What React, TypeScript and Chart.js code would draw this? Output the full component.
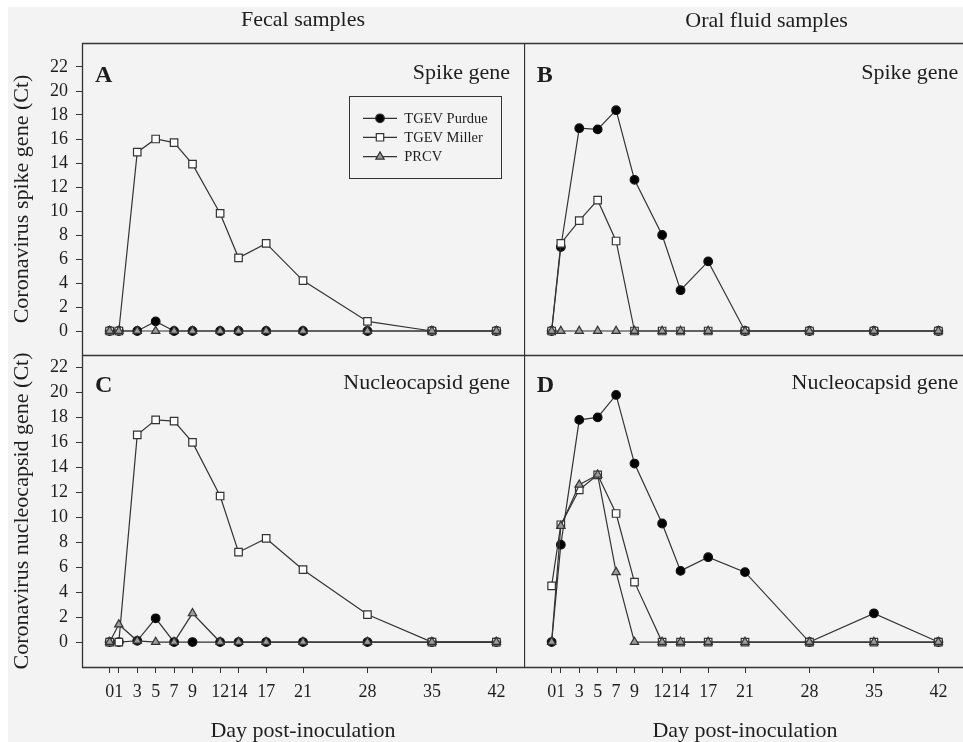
import React, { useEffect, useRef } from "react";
import { Chart, registerables } from "chart.js";

Chart.register(...registerables);

// ---------- data ----------
const days = [0, 1, 3, 5, 7, 9, 12, 14, 17, 21, 28, 35, 42];
const yTickValues = [0, 2, 4, 6, 8, 10, 12, 14, 16, 18, 20, 22];
const seriesNames = ["TGEV Purdue", "TGEV Miller", "PRCV"];

const fecalSpikePurdue = [0, 0, 0, 0.8, 0, 0, 0, 0, 0, 0, 0, 0, 0];
const fecalSpikeMiller = [0, 0, 14.9, 16.0, 15.7, 13.9, 9.8, 6.1, 7.3, 4.2, 0.8, 0, 0];
const fecalSpikePRCV = [0, 0, 0, 0, 0, 0, 0, 0, 0, 0, 0, 0, 0];

const oralSpikePurdue = [0, 7.0, 16.9, 16.8, 18.4, 12.6, 8.0, 3.4, 5.8, 0, 0, 0, 0];
const oralSpikeMiller = [0, 7.3, 9.2, 10.9, 7.5, 0, 0, 0, 0, 0, 0, 0, 0];
const oralSpikePRCV = [0, 0, 0, 0, 0, 0, 0, 0, 0, 0, 0, 0, 0];

const fecalNucPurdue = [0, 0, 0.1, 1.9, 0, 0, 0, 0, 0, 0, 0, 0, 0];
const fecalNucMiller = [0, 0, 16.6, 17.8, 17.7, 16.0, 11.7, 7.2, 8.3, 5.8, 2.2, 0, 0];
const fecalNucPRCV = [0, 1.4, 0.1, 0, 0, 2.3, 0, 0, 0, 0, 0, 0, 0];

const oralNucPurdue = [0, 7.8, 17.8, 18.0, 19.8, 14.3, 9.5, 5.7, 6.8, 5.6, 0, 2.3, 0];
const oralNucMiller = [4.5, 9.4, 12.2, 13.4, 10.3, 4.8, 0, 0, 0, 0, 0, 0, 0];
const oralNucPRCV = [0, 9.3, 12.6, 13.4, 5.6, 0, 0, 0, 0, 0, 0, 0, 0];

// ---------- styles ----------
const FONT = "'Liberation Serif', 'Times New Roman', Times, serif";
const LINE = "#333333";
const TEXT = "#1e1e1e";
const TRI_FILL = "#9c9c9c";

type Spec = {
  key: string;
  left: number;
  top: number;
  w: number;
  h: number;
  padTop: number;
  xMax: number;
  yMin: number;
  yMax: number;
  showY: boolean;
  showX: boolean;
  yTitle: string;
  purdue: number[];
  miller: number[];
  prcv: number[];
  letter: string;
  letterX: number;
  letterY: number;
  gene: string;
  geneRight: number;
  geneY: number;
  column?: string;
  columnX?: number;
  columnY?: number;
  drawTop: boolean;
  drawBottom: boolean;
  legend: boolean;
};

const panels: Spec[] = [
  {
    key: "A", left: 0, top: 0, w: 524, h: 355, padTop: 43, xMax: 45, yMin: -2, yMax: 24,
    showY: true, showX: false, yTitle: "Coronavirus spike gene (Ct)",
    purdue: fecalSpikePurdue, miller: fecalSpikeMiller, prcv: fecalSpikePRCV,
    letter: "A", letterX: 95, letterY: 81.5, gene: "Spike gene", geneRight: 510, geneY: 78.5,
    column: "Fecal samples", columnX: 303, columnY: 26, drawTop: true, drawBottom: false, legend: true,
  },
  {
    key: "B", left: 524, top: 0, w: 442, h: 355, padTop: 43, xMax: 45, yMin: -2, yMax: 24,
    showY: false, showX: false, yTitle: "",
    purdue: oralSpikePurdue, miller: oralSpikeMiller, prcv: oralSpikePRCV,
    letter: "B", letterX: 12.7, letterY: 81.5, gene: "Spike gene", geneRight: 434.3, geneY: 78.5,
    column: "Oral fluid samples", columnX: 242.5, columnY: 26.5, drawTop: true, drawBottom: false, legend: false,
  },
  {
    key: "C", left: 0, top: 340, w: 524, h: 402, padTop: 15, xMax: 45, yMin: -2, yMax: 23,
    showY: true, showX: true, yTitle: "Coronavirus nucleocapsid gene (Ct)",
    purdue: fecalNucPurdue, miller: fecalNucMiller, prcv: fecalNucPRCV,
    letter: "C", letterX: 95, letterY: 51.7, gene: "Nucleocapsid gene", geneRight: 510, geneY: 49.3,
    drawTop: true, drawBottom: true, legend: false,
  },
  {
    key: "D", left: 524, top: 340, w: 442, h: 402, padTop: 15, xMax: 45, yMin: -2, yMax: 23,
    showY: false, showX: true, yTitle: "",
    purdue: oralNucPurdue, miller: oralNucMiller, prcv: oralNucPRCV,
    letter: "D", letterX: 12.7, letterY: 51.7, gene: "Nucleocapsid gene", geneRight: 434.3, geneY: 49.3,
    drawTop: true, drawBottom: true, legend: false,
  },
];

function drawMarker(ctx: CanvasRenderingContext2D, kind: number, x: number, y: number) {
  ctx.save();
  ctx.lineWidth = 1.2;
  ctx.strokeStyle = LINE;
  ctx.beginPath();
  if (kind === 0) {
    ctx.fillStyle = "#000";
    ctx.arc(x, y, 4.3, 0, Math.PI * 2);
  } else if (kind === 1) {
    ctx.fillStyle = "#fff";
    const s = 3.7;
    ctx.rect(x - s, y - s, 2 * s, 2 * s);
  } else {
    ctx.fillStyle = TRI_FILL;
    const r = 4.8;
    for (let i = 0; i < 3; i++) {
      const a = (i * 2 * Math.PI) / 3;
      const px = x + Math.sin(a) * r;
      const py = y - Math.cos(a) * r;
      if (i === 0) ctx.moveTo(px, py);
      else ctx.lineTo(px, py);
    }
    ctx.closePath();
  }
  ctx.fill();
  ctx.stroke();
  ctx.restore();
}

function makeDecor(spec: Spec) {
  return {
    id: "decor" + spec.key,
    afterDraw(chart: any) {
      const ctx: CanvasRenderingContext2D = chart.ctx;
      const a = chart.chartArea;
      ctx.save();
      ctx.strokeStyle = LINE;
      ctx.lineWidth = 1.3;
      ctx.beginPath();
      if (spec.drawTop) {
        ctx.moveTo(a.left, a.top + 0.5);
        ctx.lineTo(a.right, a.top + 0.5);
      }
      ctx.moveTo(a.left + 0.5, a.top);
      ctx.lineTo(a.left + 0.5, a.bottom + 1);
      if (spec.drawBottom) {
        ctx.moveTo(a.left, a.bottom + 0.5);
        ctx.lineTo(a.right, a.bottom + 0.5);
      }
      ctx.stroke();

      ctx.fillStyle = TEXT;
      ctx.textBaseline = "alphabetic";
      ctx.font = `bold 24px ${FONT}`;
      ctx.textAlign = "left";
      ctx.fillText(spec.letter, spec.letterX, spec.letterY);

      ctx.font = `22px ${FONT}`;
      ctx.textAlign = "right";
      ctx.fillText(spec.gene, spec.geneRight, spec.geneY);

      if (spec.column) {
        ctx.textAlign = "center";
        ctx.fillText(spec.column, spec.columnX as number, spec.columnY as number);
      }

      if (spec.legend) {
        ctx.lineWidth = 1;
        ctx.strokeRect(349.5, 96.5, 152, 82);
        const rows = [118.3, 137.3, 156.7];
        seriesNames.forEach((name, i) => {
          ctx.beginPath();
          ctx.lineWidth = 1.2;
          ctx.moveTo(363, rows[i]);
          ctx.lineTo(397, rows[i]);
          ctx.stroke();
          drawMarker(ctx, i, 380, rows[i]);
          ctx.fillStyle = TEXT;
          ctx.font = `14.5px ${FONT}`;
          ctx.textAlign = "left";
          ctx.textBaseline = "middle";
          ctx.fillText(name, 404.3, rows[i] + 0.5);
        });
      }
      ctx.restore();
    },
  };
}

function buildConfig(spec: Spec): any {
  const pts = (arr: number[]) => days.map((d, i) => ({ x: d, y: arr[i] }));
  const common = {
    borderColor: LINE,
    borderWidth: 1.2,
    pointBorderColor: LINE,
    pointBorderWidth: 1.2,
    tension: 0,
    fill: false,
    clip: 8,
  };
  return {
    type: "line",
    data: {
      datasets: [
        {
          ...common,
          label: seriesNames[0],
          data: pts(spec.purdue),
          pointStyle: "circle",
          pointRadius: 4.3,
          pointBackgroundColor: "#000",
          pointBorderColor: "#111",
          order: 3,
        },
        {
          ...common,
          label: seriesNames[1],
          data: pts(spec.miller),
          pointStyle: "rect",
          pointRadius: 5.3,
          pointBackgroundColor: "#fff",
          order: 2,
        },
        {
          ...common,
          label: seriesNames[2],
          data: pts(spec.prcv),
          pointStyle: "triangle",
          pointRadius: 4.8,
          pointBackgroundColor: TRI_FILL,
          order: 1,
        },
      ],
    },
    options: {
      animation: false,
      responsive: false,
      maintainAspectRatio: false,
      events: [],
      layout: { autoPadding: false, padding: { top: spec.padTop, left: 0, right: 0, bottom: 0 } },
      plugins: {
        legend: { display: false },
        tooltip: { enabled: false },
        title: { display: false },
      },
      scales: {
        x: {
          type: "linear",
          min: -3,
          max: spec.xMax,
          display: spec.showX,
          afterBuildTicks: (axis: any) => {
            axis.ticks = days.map((v) => ({ value: v }));
          },
          afterFit: (scale: any) => {
            scale.height = spec.showX ? 75 : 0;
            scale.paddingLeft = 0;
            scale.paddingRight = 0;
            scale.paddingTop = 0;
            scale.paddingBottom = 0;
          },
          grid: { drawOnChartArea: false, drawTicks: true, tickLength: 6, color: LINE, lineWidth: 1 },
          border: { display: false },
          ticks: {
            autoSkip: false,
            maxRotation: 0,
            padding: 8,
            color: TEXT,
            font: { family: FONT, size: 18, lineHeight: 1.2 },
            callback: (v: any) => String(v),
          },
          title: {
            display: true,
            text: "Day post-inoculation",
            color: TEXT,
            font: { family: FONT, size: 22, lineHeight: 1 },
            padding: { top: 0, bottom: 0 },
          },
        },
        y: {
          type: "linear",
          min: spec.yMin,
          max: spec.yMax,
          display: spec.showY,
          afterBuildTicks: (axis: any) => {
            axis.ticks = yTickValues.map((v) => ({ value: v }));
          },
          afterFit: (scale: any) => {
            scale.width = spec.showY ? 82 : 0;
            scale.paddingLeft = 0;
            scale.paddingRight = 0;
            scale.paddingTop = 0;
            scale.paddingBottom = 0;
          },
          grid: { drawOnChartArea: false, drawTicks: true, tickLength: 6, color: LINE, lineWidth: 1 },
          border: { display: false },
          ticks: {
            padding: 8,
            color: TEXT,
            font: { family: FONT, size: 18, lineHeight: 1.2 },
            callback: (v: any) => String(v),
          },
          title: {
            display: spec.yTitle !== "",
            text: spec.yTitle,
            color: TEXT,
            font: { family: FONT, size: 22, lineHeight: 1 },
            padding: { top: 11, bottom: 0 },
          },
        },
      },
    },
    plugins: [makeDecor(spec)],
  };
}

function Panel({ spec }: { spec: Spec }) {
  const ref = useRef<HTMLCanvasElement | null>(null);
  useEffect(() => {
    if (!ref.current) return;
    const chart = new Chart(ref.current, buildConfig(spec));
    return () => chart.destroy();
  }, [spec]);
  return (
    <canvas
      ref={ref}
      width={spec.w}
      height={spec.h}
      style={{ position: "absolute", left: spec.left, top: spec.top, width: spec.w, height: spec.h }}
    />
  );
}

export default function App() {
  return (
    <div
      style={{
        position: "fixed",
        left: 0,
        top: 0,
        width: 963,
        height: 742,
        background: "#ffffff",
        overflow: "hidden",
      }}
    >
      <div style={{ position: "absolute", left: 8, top: 7, right: 0, bottom: 0, background: "#f3f3f3" }} />
      {panels.map((p) => (
        <Panel key={p.key} spec={p} />
      ))}
    </div>
  );
}
